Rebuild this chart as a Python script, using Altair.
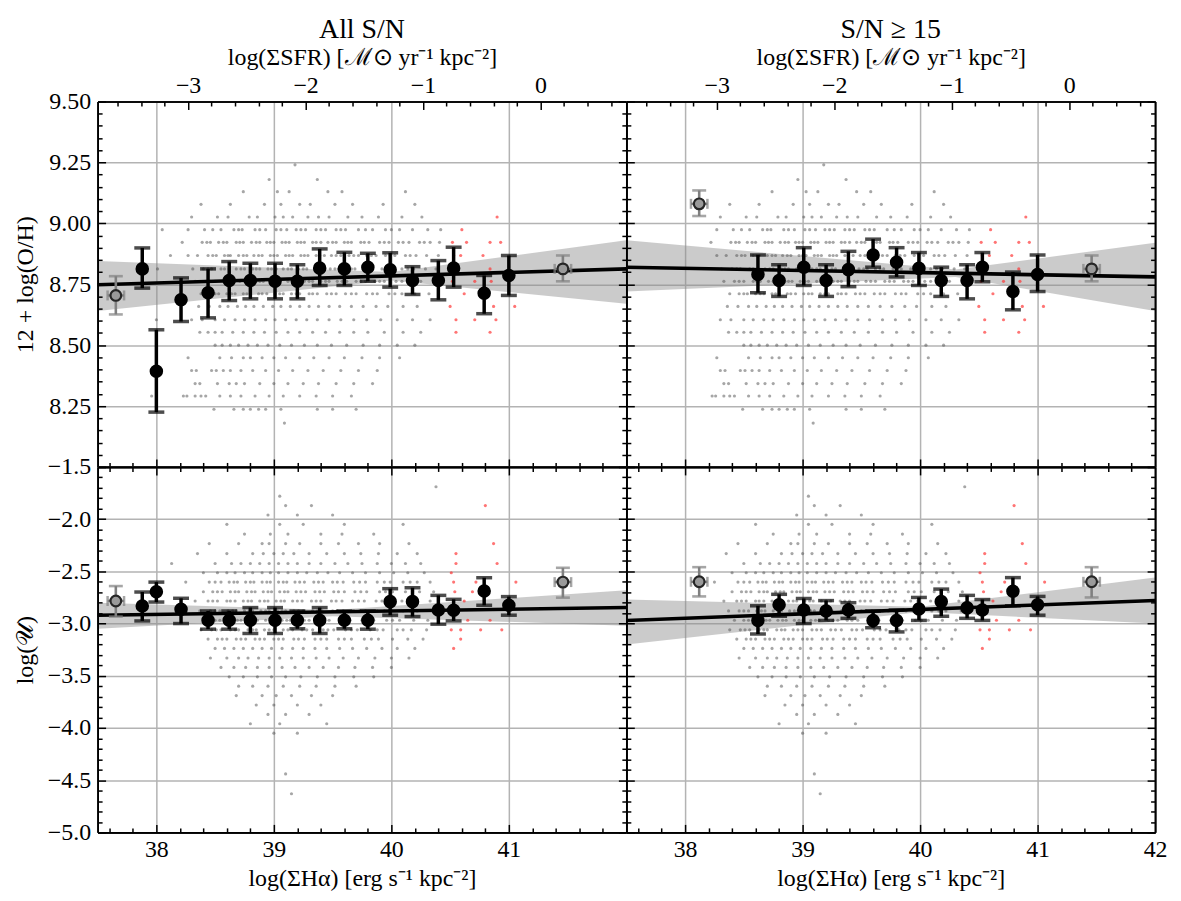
import altair as alt
import pandas as pd

FONT = "Liberation Serif"
W, H = 531, 367
XDOM = [37.5, 42.0]
SFR_OFF = 41.27

# ---------------- scatter data (rows of constant y, list of x) ----------------
oh_rows = [
    (9.24, "39.18"),
    (9.18, "38.96 39.37"),
    (9.13, "38.74 39.03 39.13 39.46 39.58 40.12"),
    (9.078, "38.38 38.63 38.92 39.06 39.22 39.31 39.52 39.67 39.93 40.2"),
    (9.026, "38.30 38.52 38.61 38.79 38.86 39.01 39.08 39.16 39.29 39.38 39.47 39.63 39.75 39.89 40.09 40.26"),
    (8.974, "38.05 38.27 38.41 38.55 38.66 38.73 38.84 38.93 39.02 39.11 39.19 39.27 39.36 39.44 39.53 39.61 39.72 39.84 39.95 40.07 40.18 40.31 40.42"),
    (8.974, "38.48 38.7 38.88 39.06 39.23 39.4 39.57 39.78 40.0"),
    (8.922, "38.22 38.39 38.46 38.53 38.6 38.68 38.74 38.81 38.88 38.94 39.0 39.07 39.13 39.2 39.26 39.33 39.4 39.46 39.53 39.6 39.66 39.74 39.81 39.9 39.98 40.06 40.15 40.24 40.33 40.41"),
    (8.922, "38.43 38.57 38.71 38.85 38.97 39.1 39.23 39.36 39.5 39.63 39.77 39.94 40.1 40.28"),
    (8.868, "38.12 38.27 38.35 38.44 38.51 38.58 38.63 38.7 38.77 38.83 38.9 38.97 39.03 39.1 39.16 39.23 39.29 39.36 39.43 39.49 39.57 39.64 39.72 39.79 39.87 39.95 40.03 40.12 40.21 40.3 40.4"),
    (8.868, "38.48 38.61 38.74 38.87 39.0 39.13 39.26 39.39 39.53 39.68 39.83 39.99 40.16"),
    (8.813, "38.01 38.31 38.4 38.47 38.55 38.62 38.68 38.75 38.82 38.88 38.95 39.02 39.08 39.15 39.21 39.28 39.35 39.41 39.48 39.55 39.62 39.69 39.77 39.84 39.92 40.0 40.09 40.19 40.29 40.38"),
    (8.813, "38.44 38.58 38.72 38.85 38.98 39.12 39.25 39.38 39.52 39.66 39.81 39.96 40.14"),
    (8.762, "38.33 38.42 38.5 38.58 38.64 38.71 38.78 38.85 38.91 38.98 39.05 39.12 39.19 39.26 39.33 39.4 39.47 39.54 39.62 39.7 39.78 39.86 39.94 40.04 40.14 40.25 40.36"),
    (8.762, "38.46 38.61 38.75 38.88 39.02 39.16 39.3 39.44 39.58 39.74 39.9 40.09"),
    (8.711, "38.38 38.46 38.53 38.6 38.67 38.74 38.8 38.87 38.94 39.01 39.08 39.15 39.22 39.3 39.37 39.45 39.53 39.61 39.7 39.79 39.88 39.98 40.09 40.2 40.32"),
    (8.711, "38.5 38.64 38.77 38.9 39.05 39.19 39.33 39.49 39.66 39.84 40.03"),
    (8.659, "38.36 38.45 38.54 38.61 38.69 38.76 38.83 38.91 38.99 39.06 39.14 39.22 39.3 39.38 39.47 39.56 39.66 39.76 39.87 39.97 40.1 40.22"),
    (8.604, "38.0 38.3 38.39 38.5 38.58 38.67 38.75 38.84 38.93 39.01 39.1 39.19 39.28 39.37 39.47 39.57 39.68 39.79 39.91 40.05 40.18 40.33"),
    (8.553, "38.37 38.44 38.5 38.56 38.65 38.74 38.83 38.92 39.02 39.12 39.22 39.33 39.44 39.56 39.68 39.8 39.94 40.1 40.25"),
    (8.50, "38.5 38.56 38.63 38.7 38.78 38.86 38.95 39.05 39.15 39.26 39.37 39.49 39.62 39.76 39.9 40.05 40.2"),
    (8.448, "38.27 38.54 38.64 38.74 38.8 38.9 39.0 39.1 39.22 39.34 39.47 39.6 39.75 39.9 40.07"),
    (8.396, "38.3 38.34 38.47 38.51 38.57 38.63 38.72 38.82 38.93 39.04 39.16 39.29 39.42 39.57 39.72 39.88"),
    (8.342, "38.33 38.37 38.52 38.62 38.68 38.75 38.88 39.0 39.12 39.25 39.38 39.53 39.68 39.84"),
    (8.291, "37.96 38.23 38.26 38.33 38.38 38.42 38.54 38.63 38.72 38.84 38.96 39.08 39.22 39.36 39.5 39.66"),
    (8.237, "38.49 38.66 38.74 38.8 38.87 38.93 39.06 39.37 39.5 39.7"),
    (8.18, "39.09"),
]
oh_red_x = [40.52, 40.64, 40.84, 40.93, 40.53, 40.59, 40.78, 40.84, 40.52, 40.71, 40.85, 40.62,
            40.50, 40.87, 41.05, 40.55, 40.71, 40.89, 40.55, 40.84, 40.60, 40.90]
oh_red_y = [8.922, 8.922, 8.922, 8.922, 8.868, 8.868, 8.868, 8.813, 8.762, 8.762, 8.762, 8.711,
            8.659, 8.659, 8.659, 8.604, 8.604, 8.604, 8.553, 8.553, 8.974, 9.026]

u_rows = [
    (-1.69, "40.38"),
    (-1.78, "39.05"),
    (-1.87, "39.1 39.32"),
    (-1.96, "38.95 39.2 39.5"),
    (-2.05, "38.6 39.05 39.25 39.6 40.1"),
    (-2.143, "38.75 38.97 39.12 39.4 39.58 39.85"),
    (-2.234, "38.45 38.7 38.9 38.96 39.1 39.22 39.4 39.55 39.72 39.9 40.15"),
    (-2.33, "38.35 38.6 38.82 38.91 39.0 39.08 39.17 39.3 39.45 39.6 39.74 39.89 40.05 40.22"),
    (-2.425, "38.13 38.5 38.64 38.72 38.8 38.88 38.96 39.04 39.12 39.2 39.3 39.4 39.52 39.63 39.75 39.88 40.0 40.12 40.25"),
    (-2.513, "38.4 38.52 38.6 38.67 38.75 38.82 38.9 38.97 39.04 39.12 39.2 39.28 39.37 39.46 39.56 39.67 39.78 39.9 40.02 40.14 40.28"),
    (-2.603, "38.25 38.45 38.55 38.62 38.69 38.76 38.83 38.9 38.97 39.04 39.11 39.18 39.26 39.34 39.42 39.5 39.59 39.68 39.78 39.88 39.99 40.1 40.22 40.33"),
    (-2.603, "38.5 38.66 38.8 38.94 39.08 39.22 39.38 39.54 39.73 39.94 40.16"),
    (-2.695, "38.4 38.48 38.56 38.63 38.7 38.77 38.84 38.91 38.98 39.05 39.12 39.19 39.27 39.35 39.43 39.51 39.6 39.69 39.79 39.9 40.01 40.12 40.24 40.36"),
    (-2.695, "38.52 38.67 38.81 38.95 39.09 39.23 39.39 39.55 39.74 39.95 40.18"),
    (-2.784, "38.33 38.44 38.52 38.6 38.67 38.74 38.81 38.88 38.95 39.02 39.09 39.16 39.24 39.32 39.4 39.49 39.58 39.67 39.77 39.87 39.98 40.09 40.21 40.33"),
    (-2.784, "38.48 38.63 38.78 38.92 39.06 39.2 39.36 39.53 39.72 39.92 40.15"),
    (-2.879, "38.37 38.46 38.54 38.61 38.68 38.75 38.82 38.89 38.96 39.03 39.1 39.17 39.25 39.33 39.41 39.5 39.59 39.68 39.78 39.88 39.99 40.1 40.22 40.35"),
    (-2.879, "38.5 38.65 38.79 38.93 39.07 39.21 39.37 39.54 39.73 39.94 40.16"),
    (-2.968, "38.42 38.5 38.58 38.65 38.72 38.79 38.86 38.93 39.0 39.07 39.14 39.22 39.3 39.38 39.47 39.56 39.65 39.75 39.85 39.96 40.07 40.19 40.31"),
    (-2.968, "38.54 38.69 38.83 38.97 39.11 39.26 39.42 39.6 39.8 40.01"),
    (-3.06, "38.38 38.47 38.55 38.63 38.7 38.78 38.85 38.92 39.0 39.08 39.16 39.24 39.33 39.42 39.51 39.61 39.71 39.82 39.93 40.05 40.17 40.3"),
    (-3.06, "38.51 38.67 38.82 38.96 39.12 39.28 39.46 39.66 39.88 40.1"),
    (-3.149, "38.44 38.52 38.6 38.68 38.76 38.84 38.92 39.0 39.08 39.17 39.26 39.35 39.45 39.55 39.66 39.77 39.89 40.01 40.14 40.27"),
    (-3.149, "38.56 38.72 38.88 39.04 39.21 39.4 39.6 39.83"),
    (-3.238, "38.5 38.58 38.66 38.74 38.82 38.9 38.98 39.07 39.16 39.25 39.35 39.45 39.56 39.67 39.79 39.92 40.05 40.2"),
    (-3.33, "38.46 38.6 38.7 38.78 38.87 38.96 39.05 39.15 39.25 39.36 39.47 39.59 39.72 39.86 40.0 40.15"),
    (-3.42, "38.55 38.66 38.76 38.86 38.96 39.07 39.18 39.3 39.42 39.55 39.69 39.84 40.0"),
    (-3.51, "38.62 38.74 38.86 38.98 39.1 39.23 39.37 39.52 39.68 39.85"),
    (-3.60, "38.7 38.82 38.95 39.08 39.22 39.36 39.52 39.7"),
    (-3.69, "38.68 38.9 39.02 39.15 39.32 39.5"),
    (-3.78, "38.85 39.0 39.2 39.4"),
    (-3.87, "38.95 39.1 39.3"),
    (-3.96, "38.8 39.05 39.45"),
    (-4.05, "39.0 39.2"),
    (-4.44, "39.1"),
    (-4.63, "39.15"),
]
u_red_x = [40.80, 40.87, 40.55, 40.55, 40.90, 40.51, 40.53, 40.72, 41.06, 40.54, 40.69, 40.62,
           40.65, 40.84, 40.51, 40.59, 40.76, 40.94, 40.59, 40.53]
u_red_y = [-1.87, -2.234, -2.33, -2.425, -2.425, -2.513, -2.603, -2.603, -2.603, -2.695, -2.695, -2.784,
           -2.968, -2.968, -3.06, -3.06, -3.06, -3.06, -3.149, -3.238]

# ---------------- binned medians ----------------
tl_x = [37.88, 38.00, 38.21, 38.44, 38.62, 38.80, 39.01, 39.20, 39.39, 39.60, 39.80, 39.99, 40.18, 40.40, 40.53, 40.79, 41.00]
tl_y = [8.813, 8.393, 8.686, 8.715, 8.765, 8.765, 8.762, 8.762, 8.816, 8.813, 8.820, 8.809, 8.765, 8.765, 8.816, 8.713, 8.786]
tl_lo = [8.734, 8.225, 8.597, 8.612, 8.683, 8.690, 8.690, 8.690, 8.745, 8.745, 8.762, 8.738, 8.708, 8.686, 8.738, 8.629, 8.704]
tl_hi = [8.899, 8.563, 8.776, 8.813, 8.843, 8.836, 8.836, 8.830, 8.895, 8.881, 8.877, 8.879, 8.822, 8.847, 8.902, 8.786, 8.868]
tl_gx = [37.655, 41.46]
tl_gy = [8.704, 8.813]
tl_glo = [8.626, 8.762]
tl_ghi = [8.783, 8.868]

bl_x = tl_x
bl_y = [-2.832, -2.695, -2.863, -2.968, -2.968, -2.968, -2.968, -2.968, -2.968, -2.968, -2.968, -2.790, -2.790, -2.870, -2.873, -2.689, -2.825]
bl_lo = [-2.975, -2.794, -3.000, -3.054, -3.054, -3.095, -3.095, -3.050, -3.095, -3.050, -3.054, -2.920, -2.933, -3.006, -2.975, -2.825, -2.920]
bl_hi = [-2.698, -2.603, -2.758, -2.879, -2.879, -2.847, -2.847, -2.880, -2.847, -2.880, -2.879, -2.666, -2.657, -2.730, -2.768, -2.561, -2.742]
bl_gx = [37.655, 41.46]
bl_gy = [-2.784, -2.603]
bl_glo = [-2.933, -2.752]
bl_ghi = [-2.641, -2.466]

tr_x = [38.62, 38.80, 39.01, 39.20, 39.39, 39.60, 39.80, 39.99, 40.18, 40.40, 40.53, 40.79, 41.00]
tr_y = [8.790, 8.765, 8.820, 8.765, 8.810, 8.870, 8.840, 8.815, 8.765, 8.765, 8.820, 8.720, 8.790]
tr_lo = [8.715, 8.700, 8.745, 8.700, 8.740, 8.820, 8.780, 8.745, 8.700, 8.690, 8.760, 8.645, 8.720]
tr_hi = [8.870, 8.830, 8.900, 8.830, 8.885, 8.935, 8.900, 8.880, 8.820, 8.830, 8.880, 8.800, 8.870]
tr_gx = [38.12, 41.46]
tr_gy = [9.080, 8.813]
tr_glo = [9.030, 8.762]
tr_ghi = [9.135, 8.868]

br_x = tr_x
br_y = [-2.97, -2.82, -2.87, -2.88, -2.87, -2.97, -2.97, -2.86, -2.79, -2.85, -2.87, -2.69, -2.82]
br_lo = [-3.10, -2.93, -3.00, -2.97, -2.95, -3.04, -3.08, -2.97, -2.93, -2.95, -2.97, -2.83, -2.92]
br_hi = [-2.83, -2.72, -2.76, -2.78, -2.80, -2.88, -2.87, -2.75, -2.67, -2.73, -2.77, -2.56, -2.74]
br_gx = [38.12, 41.46]
br_gy = [-2.60, -2.60]
br_glo = [-2.74, -2.75]
br_ghi = [-2.46, -2.46]

# ---------------- fits and confidence bands ----------------
fit_x = [37.5, 42.0]
tl_fit = [8.748, 8.813]
bl_fit = [-2.92, -2.847]
tr_fit = [8.82, 8.78]
br_fit = [-2.97, -2.78]

tl_bx = [37.5, 40.0, 42.0]
tl_blo = [8.64, 8.765, 8.67]
tl_bhi = [8.845, 8.80, 8.93]
bl_bx = [37.5, 39.5, 42.0]
bl_blo = [-3.05, -2.93, -3.02]
bl_bhi = [-2.80, -2.87, -2.68]
tr_bx = [37.5, 40.3, 42.0]
tr_blo = [8.72, 8.78, 8.64]
tr_bhi = [8.93, 8.81, 8.92]
br_bx = [37.5, 40.0, 42.0]
br_blo = [-3.20, -2.89, -3.00]
br_bhi = [-2.77, -2.84, -2.56]


def rows_df(rows):
    recs = []
    for y, xs in rows:
        for v in xs.split():
            recs.append({"x": float(v), "y": y})
    return pd.DataFrame(recs)


def minor_vals(lo, hi, step, major_step):
    out = []
    n = int(round((hi - lo) / step))
    for i in range(n + 1):
        v = round(lo + i * step, 4)
        r = v / major_step
        if abs(r - round(r)) > 1e-6:
            out.append(v)
    return out


LAB = dict(labelFont=FONT, labelFontSize=24, labelColor="black",
           titleFont=FONT, titleFontSize=24, titleColor="black", titleFontWeight="normal")
MINUS = "replace(datum.label, '-', '\u2212')"


def tick_axis(orient, offset, values, size):
    return alt.Axis(orient=orient, offset=offset, values=values, tickSize=size,
                    tickWidth=1.5, tickColor="black", labels=False, grid=False,
                    domain=True, domainColor="black", domainWidth=1.7, title=None, zindex=3)


def panel(scat, red, bx, by, blo, bhi, gx, gy, glo, ghi, fit, bandx, bandlo, bandhi,
          ydom, ymaj, ylab, ymin, yfmt, ytitle, top, left, right, title):
    xs = alt.Scale(domain=XDOM, nice=False, zero=False)
    ys = alt.Scale(domain=ydom, nice=False, zero=False)
    sfr_dom = [XDOM[0] - SFR_OFF, XDOM[1] - SFR_OFF]
    ss = alt.Scale(domain=sfr_dom, nice=False, zero=False)

    xmaj = [38, 39, 40, 41]
    xmin = minor_vals(37.6, 41.8, 0.2, 1.0)
    xlab = [38, 39, 40, 41, 42] if right else [38, 39, 40, 41]

    main_x = alt.Axis(orient="bottom", values=(xlab if not top else xmaj), labels=not top,
                      labelExpr=MINUS, format="d", labelPadding=5, labelFlush=False,
                      labelOverlap=False,
                      title=None if top else "log(\u03a3H\u03b1) [erg s\u207b\u00b9 kpc\u207b\u00b2]",
                      titlePadding=5, grid=True, gridColor="#b3b3b3", gridWidth=1.5,
                      ticks=False, domain=False, zindex=0, **LAB)
    main_y = alt.Axis(orient="left", values=ylab, labels=left, format=yfmt,
                      labelExpr=MINUS, labelPadding=7, labelFlush=False, labelOverlap=False,
                      title=ytitle if left else None, titlePadding=8,
                      minExtent=(52 if left else 0), maxExtent=(52 if left else 0),
                      grid=True, gridColor="#b3b3b3", gridWidth=1.5,
                      ticks=False, domain=False, zindex=0, **LAB)

    band_df = pd.DataFrame({"x": bandx, "lo": bandlo, "hi": bandhi})
    band = alt.Chart(band_df).mark_area(color="#8c8c8c", opacity=0.45, orient="vertical").encode(
        x=alt.X("x:Q", scale=xs, axis=main_x),
        y=alt.Y("lo:Q", scale=ys, axis=main_y),
        y2="hi:Q",
    )
    sc = alt.Chart(scat).mark_circle(size=10, color="#4d4d4d", opacity=0.5).encode(
        x=alt.X("x:Q", scale=xs, axis=None), y=alt.Y("y:Q", scale=ys, axis=None))
    rd = alt.Chart(red).mark_circle(size=10, color="#ff2a2a", opacity=0.65).encode(
        x=alt.X("x:Q", scale=xs, axis=None), y=alt.Y("y:Q", scale=ys, axis=None))
    fit_df = pd.DataFrame({"x": fit_x, "y": fit})
    fl = alt.Chart(fit_df).mark_line(color="black", strokeWidth=3.6).encode(
        x=alt.X("x:Q", scale=xs, axis=None), y=alt.Y("y:Q", scale=ys, axis=None))

    b_df = pd.DataFrame({"x": bx, "y": by, "lo": blo, "hi": bhi})
    g_df = pd.DataFrame({"x": gx, "y": gy, "lo": glo, "hi": ghi,
                         "xl": [v - 0.07 for v in gx], "xh": [v + 0.07 for v in gx]})

    def errs(df, color, width, cap):
        r = alt.Chart(df).mark_rule(color=color, strokeWidth=width).encode(
            x=alt.X("x:Q", scale=xs, axis=None), y=alt.Y("lo:Q", scale=ys, axis=None), y2="hi:Q")
        c1 = alt.Chart(df).mark_tick(color=color, orient="horizontal", size=cap, thickness=width).encode(
            x=alt.X("x:Q", scale=xs, axis=None), y=alt.Y("lo:Q", scale=ys, axis=None))
        c2 = alt.Chart(df).mark_tick(color=color, orient="horizontal", size=cap, thickness=width).encode(
            x=alt.X("x:Q", scale=xs, axis=None), y=alt.Y("hi:Q", scale=ys, axis=None))
        return [r, c1, c2]

    gxr = alt.Chart(g_df).mark_rule(color="#808080", strokeWidth=2.5).encode(
        x=alt.X("xl:Q", scale=xs, axis=None), x2="xh:Q", y=alt.Y("y:Q", scale=ys, axis=None))
    gxc1 = alt.Chart(g_df).mark_tick(color="#808080", orient="vertical", size=10, thickness=2.5).encode(
        x=alt.X("xl:Q", scale=xs, axis=None), y=alt.Y("y:Q", scale=ys, axis=None))
    gxc2 = alt.Chart(g_df).mark_tick(color="#808080", orient="vertical", size=10, thickness=2.5).encode(
        x=alt.X("xh:Q", scale=xs, axis=None), y=alt.Y("y:Q", scale=ys, axis=None))
    gpt = alt.Chart(g_df).mark_point(shape="circle", filled=True, size=115, fill="#9a9a9a",
                                     stroke="#262626", strokeWidth=2.2, opacity=1).encode(
        x=alt.X("x:Q", scale=xs, axis=None), y=alt.Y("y:Q", scale=ys, axis=None))
    bpt = alt.Chart(b_df).mark_circle(size=185, color="black", opacity=1).encode(
        x=alt.X("x:Q", scale=xs, axis=None), y=alt.Y("y:Q", scale=ys, axis=None))

    dummy = pd.DataFrame({"x": [40.0], "s": [-1.0], "y": [ydom[0]]})
    pt = alt.Chart(dummy).mark_point(opacity=0)
    t1 = pt.encode(x=alt.X("x:Q", scale=xs, axis=tick_axis("top", -H, xmaj, 8)),
                   y=alt.Y("y:Q", scale=ys, axis=tick_axis("right", -W, ymaj, 8)))
    t2 = pt.encode(x=alt.X("x:Q", scale=xs, axis=tick_axis("top", -H, xmin, 4.5)),
                   y=alt.Y("y:Q", scale=ys, axis=tick_axis("right", -W, ymin, 4.5)))
    if top:
        smaj = [-3, -2, -1, 0]
        smin = minor_vals(-3.6, 0.6, 0.2, 1.0)
        t3 = pt.encode(x=alt.X("s:Q", scale=ss, axis=tick_axis("bottom", -H, smaj, 8)),
                       y=alt.Y("y:Q", scale=ys, axis=tick_axis("left", -W, ymaj, 8)))
        t4 = pt.encode(x=alt.X("s:Q", scale=ss, axis=tick_axis("bottom", -H, smin, 4.5)),
                       y=alt.Y("y:Q", scale=ys, axis=tick_axis("left", -W, ymin, 4.5)))
        t5 = pt.encode(x=alt.X("s:Q", scale=ss, axis=alt.Axis(
            orient="top", values=smaj, format="d", labelExpr=MINUS, ticks=False, domain=False,
            grid=False, labelPadding=4, labelFlush=False, labelOverlap=False,
            title="log(\u03a3SFR) [\u2133\u2299 yr\u207b\u00b9 kpc\u207b\u00b2]", titlePadding=4, **LAB)),
            y=alt.Y("y:Q", scale=ys, axis=None))
        axl = [t1, t2, t3, t4, t5]
    else:
        t3 = pt.encode(x=alt.X("x:Q", scale=xs, axis=tick_axis("bottom", -H, xmaj, 8)),
                       y=alt.Y("y:Q", scale=ys, axis=tick_axis("left", -W, ymaj, 8)))
        t4 = pt.encode(x=alt.X("x:Q", scale=xs, axis=tick_axis("bottom", -H, xmin, 4.5)),
                       y=alt.Y("y:Q", scale=ys, axis=tick_axis("left", -W, ymin, 4.5)))
        axl = [t1, t2, t3, t4]

    layers = [band, sc, rd, fl] + errs(g_df, "#808080", 2.6, 14) + [gxr, gxc1, gxc2, gpt] \
        + errs(b_df, "black", 3.5, 16) + [bpt] + axl
    ch = alt.layer(*layers).resolve_scale(x="independent").resolve_axis(x="independent", y="independent")
    props = dict(width=W, height=H)
    if title:
        props["title"] = alt.TitleParams(title, font=FONT, fontSize=28, fontWeight="normal",
                                         anchor="middle", color="black", offset=2)
    return ch.properties(**props)


oh_scat = rows_df(oh_rows)
u_scat = rows_df(u_rows)
oh_red = pd.DataFrame({"x": oh_red_x, "y": oh_red_y})
u_red = pd.DataFrame({"x": u_red_x, "y": u_red_y})

oh_maj = [8.0, 8.25, 8.5, 8.75, 9.0, 9.25, 9.5]
oh_lab = [8.25, 8.5, 8.75, 9.0, 9.25, 9.5]
oh_min = minor_vals(8.05, 9.45, 0.05, 0.25)
u_maj = [-5.0, -4.5, -4.0, -3.5, -3.0, -2.5, -2.0, -1.5]
u_min = minor_vals(-4.9, -1.6, 0.1, 0.5)

tl = panel(oh_scat, oh_red, tl_x, tl_y, tl_lo, tl_hi, tl_gx, tl_gy, tl_glo, tl_ghi, tl_fit,
           tl_bx, tl_blo, tl_bhi, [8.0, 9.5], oh_maj, oh_lab, oh_min, ".2f", "12 + log(O/H)",
           True, True, False, "All S/N")
tr = panel(oh_scat[oh_scat.x > 38.2], oh_red, tr_x, tr_y, tr_lo, tr_hi, tr_gx, tr_gy, tr_glo, tr_ghi,
           tr_fit, tr_bx, tr_blo, tr_bhi, [8.0, 9.5], oh_maj, oh_lab, oh_min, ".2f", "12 + log(O/H)",
           True, False, True, "S/N \u2265 15")
bl = panel(u_scat, u_red, bl_x, bl_y, bl_lo, bl_hi, bl_gx, bl_gy, bl_glo, bl_ghi, bl_fit,
           bl_bx, bl_blo, bl_bhi, [-5.0, -1.5], u_maj, u_maj, u_min, ".1f", "log(\U0001d4b0)",
           False, True, False, None)
br = panel(u_scat[u_scat.x > 38.2], u_red, br_x, br_y, br_lo, br_hi, br_gx, br_gy, br_glo, br_ghi,
           br_fit, br_bx, br_blo, br_bhi, [-5.0, -1.5], u_maj, u_maj, u_min, ".1f", "log(\U0001d4b0)",
           False, False, True, None)

chart = alt.concat(tl, tr, bl, br, columns=2, spacing=0, bounds="flush") \
    .configure_view(stroke=None).configure(background="white")

chart.save("out.html", embed_options={"renderer": "svg", "actions": False})
